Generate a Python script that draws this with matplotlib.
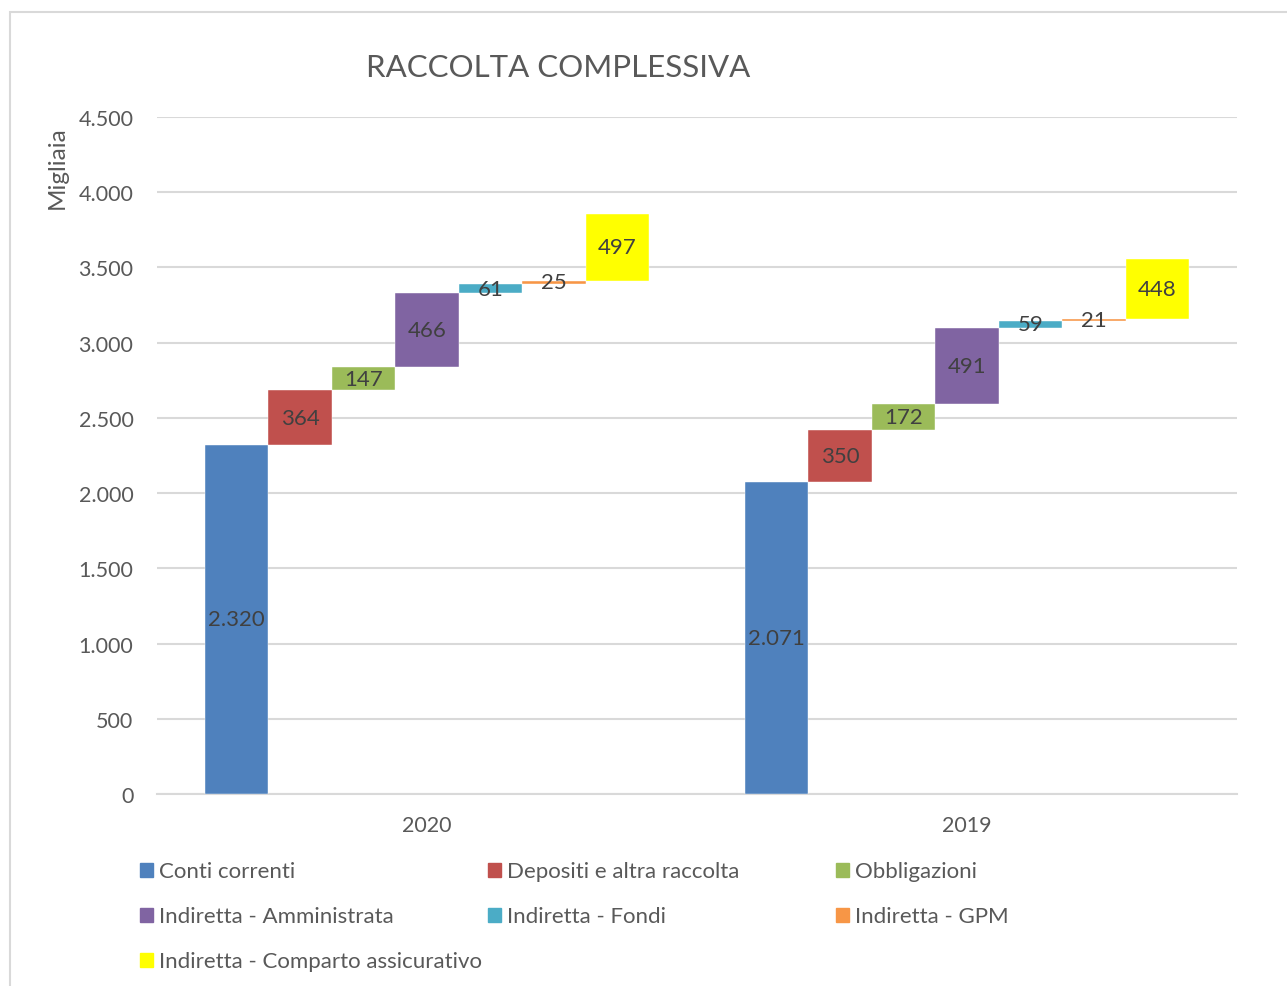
import matplotlib
matplotlib.use("Agg")
import matplotlib.pyplot as plt
from matplotlib.patches import Rectangle
from matplotlib.ticker import FuncFormatter, MultipleLocator

plt.rcParams["font.family"] = ["Lato", "DejaVu Sans"]

# Data (migliaia)
years = ["2020", "2019"]
series = [
    "Conti correnti",
    "Depositi e altra raccolta",
    "Obbligazioni",
    "Indiretta - Amministrata",
    "Indiretta - Fondi",
    "Indiretta - GPM",
    "Indiretta - Comparto assicurativo",
]
colors = ["#4F81BD", "#C0504D", "#9BBB59", "#8064A2", "#4BACC6", "#F79646", "#FFFF00"]
# bar heights as drawn in the chart
heights_2020 = [2320, 365, 153, 492, 60, 20, 446]
heights_2019 = [2071, 349, 172, 506, 49, 11, 398]
# data labels as printed
labels_2020 = ["2.320", "364", "147", "466", "61", "25", "497"]
labels_2019 = ["2.071", "350", "172", "491", "59", "21", "448"]

heights = [heights_2020, heights_2019]
labels = [labels_2020, labels_2019]

fig = plt.figure(figsize=(12.87, 9.87), dpi=100)
ax = fig.add_axes([157 / 1287, 1 - 795 / 987, 1080 / 1287, 677 / 987])

txt_col = "#595959"
lbl_col = "#404040"
width = 0.1176

for g, (h, lab) in enumerate(zip(heights, labels)):
    bottom = 0
    for i in range(len(series)):
        x = g + (i - 3) * width
        ax.bar(x, h[i], width=width, bottom=bottom, color=colors[i],
               edgecolor="white", linewidth=0.3, zorder=3)
        ax.text(x, bottom + h[i] / 2, lab[i], ha="center", va="center",
                fontsize=16, color=lbl_col, zorder=4)
        bottom += h[i]

ax.set_xlim(-0.5, 1.5)
ax.set_ylim(0, 4500)
ax.yaxis.set_major_locator(MultipleLocator(500))
ax.yaxis.set_major_formatter(FuncFormatter(lambda v, p: f"{int(v):,}".replace(",", ".")))
ax.set_xticks([0, 1])
ax.set_xticklabels(years)
ax.grid(axis="y", color="#D9D9D9", linewidth=1.5, zorder=0)
for s in ["top", "right", "left"]:
    ax.spines[s].set_visible(False)
ax.spines["bottom"].set_color("#D9D9D9")
ax.spines["bottom"].set_linewidth(1.5)
ax.tick_params(axis="both", length=0, labelsize=15.5, labelcolor=txt_col)
ax.tick_params(axis="y", pad=17)
ax.tick_params(axis="x", pad=15)

fig.text(558 / 1287, 1 - 68 / 987, "RACCOLTA COMPLESSIVA", ha="center", va="center",
         fontsize=22.5, color=txt_col)
fig.text(57 / 1287, 1 - 168 / 987, "Migliaia", ha="center", va="center",
         rotation=90, fontsize=17.5, color=txt_col)

# legend laid out in rows of three
col_x = [140, 488, 836]
row_y = [871, 916, 961]
for i, name in enumerate(series):
    r, c = divmod(i, 3)
    x0, y0 = col_x[c], row_y[r]
    fig.patches.append(Rectangle((x0 / 1287, 1 - (y0 + 7) / 987), 13 / 1287, 14 / 987,
                                 transform=fig.transFigure, color=colors[i]))
    fig.text((x0 + 19) / 1287, 1 - (y0 + 1) / 987, name, ha="left", va="center",
             fontsize=16, color=txt_col)

# outer chart border
fig.patches.append(Rectangle((10 / 1287, -0.05), 1.1, 1 - 13 / 987 + 0.05,
                             transform=fig.transFigure, fill=False,
                             edgecolor="#D9D9D9", linewidth=1.5))

fig.savefig("out.png", dpi=100)
